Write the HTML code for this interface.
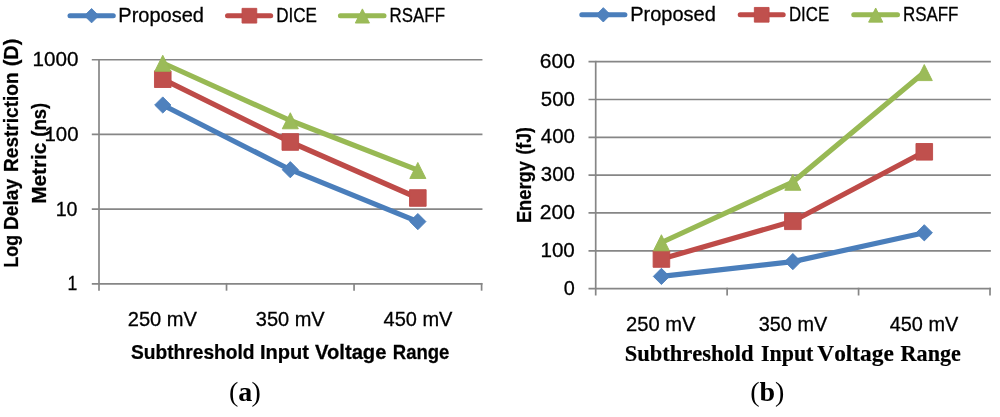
<!DOCTYPE html>
<html><head><meta charset="utf-8"><title>Chart</title>
<style>
html,body{margin:0;padding:0;background:#fff;}
body{width:1000px;height:417px;overflow:hidden;font-family:"Liberation Sans",sans-serif;}
svg{display:block;will-change:transform;}
text{fill:#000;}
text.r{stroke:#000;stroke-width:0.3px;}
text.b{stroke:#000;stroke-width:0.25px;}
text.s{font-kerning:none;stroke:#000;stroke-width:0.2px;}
</style></head><body>
<svg width="1000" height="417" viewBox="0 0 1000 417">
<rect width="1000" height="417" fill="#fff"/>
<!-- left chart -->
<line x1="91.80" y1="59.75" x2="482.45" y2="59.75" stroke="#868686" stroke-width="1.7"/>
<line x1="91.80" y1="134.43" x2="482.45" y2="134.43" stroke="#868686" stroke-width="1.7"/>
<line x1="91.80" y1="209.11" x2="482.45" y2="209.11" stroke="#868686" stroke-width="1.7"/>
<line x1="91.80" y1="283.79" x2="482.45" y2="283.79" stroke="#868686" stroke-width="1.7"/>
<line x1="99.00" y1="58.90" x2="99.00" y2="290.69" stroke="#868686" stroke-width="1.7"/>
<line x1="226.53" y1="282.94" x2="226.53" y2="290.69" stroke="#868686" stroke-width="1.7"/>
<line x1="354.07" y1="282.94" x2="354.07" y2="290.69" stroke="#868686" stroke-width="1.7"/>
<line x1="481.60" y1="282.94" x2="481.60" y2="290.69" stroke="#868686" stroke-width="1.7"/>
<polyline points="162.77,105.00 290.30,169.70 417.83,221.60" fill="none" stroke="#4A7EBB" stroke-width="5.2" stroke-linecap="round" stroke-linejoin="round"/>
<polyline points="162.77,79.20 290.30,142.00 417.83,198.00" fill="none" stroke="#BE4B48" stroke-width="5.2" stroke-linecap="round" stroke-linejoin="round"/>
<polyline points="162.77,63.00 290.30,120.50 417.83,170.20" fill="none" stroke="#98B954" stroke-width="5.2" stroke-linecap="round" stroke-linejoin="round"/>
<path d="M162.77,96.88 L170.89,105.00 L162.77,113.12 L154.65,105.00Z" fill="#4F81BD" stroke="#4A7EBB" stroke-width="0.9" stroke-linejoin="miter"/>
<path d="M290.30,161.58 L298.42,169.70 L290.30,177.82 L282.18,169.70Z" fill="#4F81BD" stroke="#4A7EBB" stroke-width="0.9" stroke-linejoin="miter"/>
<path d="M417.83,213.48 L425.95,221.60 L417.83,229.72 L409.71,221.60Z" fill="#4F81BD" stroke="#4A7EBB" stroke-width="0.9" stroke-linejoin="miter"/>
<rect x="154.47" y="70.90" width="16.60" height="16.60" fill="#C0504D" stroke="#BE4B48" stroke-width="0.9" stroke-linejoin="round"/>
<rect x="282.00" y="133.70" width="16.60" height="16.60" fill="#C0504D" stroke="#BE4B48" stroke-width="0.9" stroke-linejoin="round"/>
<rect x="409.53" y="189.70" width="16.60" height="16.60" fill="#C0504D" stroke="#BE4B48" stroke-width="0.9" stroke-linejoin="round"/>
<path d="M162.77,55.24 L170.80,71.30 L154.74,71.30Z" fill="#9BBB59" stroke="#98B954" stroke-width="0.9" stroke-linejoin="miter"/>
<path d="M290.30,112.74 L298.33,128.80 L282.27,128.80Z" fill="#9BBB59" stroke="#98B954" stroke-width="0.9" stroke-linejoin="miter"/>
<path d="M417.83,162.44 L425.86,178.50 L409.80,178.50Z" fill="#9BBB59" stroke="#98B954" stroke-width="0.9" stroke-linejoin="miter"/>
<line x1="70.00" y1="15.70" x2="113.30" y2="15.70" stroke="#4A7EBB" stroke-width="5.0" stroke-linecap="round"/>
<path d="M91.60,8.53 L98.77,15.70 L91.60,22.87 L84.43,15.70Z" fill="#4F81BD" stroke="#4A7EBB" stroke-width="0.9" stroke-linejoin="miter"/>
<line x1="227.50" y1="15.70" x2="270.70" y2="15.70" stroke="#BE4B48" stroke-width="5.0" stroke-linecap="round"/>
<rect x="242.05" y="8.35" width="14.70" height="14.70" fill="#C0504D" stroke="#BE4B48" stroke-width="0.9" stroke-linejoin="round"/>
<line x1="340.40" y1="15.70" x2="384.00" y2="15.70" stroke="#98B954" stroke-width="5.0" stroke-linecap="round"/>
<path d="M362.40,8.89 L369.48,23.05 L355.32,23.05Z" fill="#9BBB59" stroke="#98B954" stroke-width="0.9" stroke-linejoin="miter"/>
<!-- right chart -->
<line x1="588.50" y1="61.68" x2="990.85" y2="61.68" stroke="#868686" stroke-width="1.7"/>
<line x1="588.50" y1="99.50" x2="990.85" y2="99.50" stroke="#868686" stroke-width="1.7"/>
<line x1="588.50" y1="137.32" x2="990.85" y2="137.32" stroke="#868686" stroke-width="1.7"/>
<line x1="588.50" y1="175.14" x2="990.85" y2="175.14" stroke="#868686" stroke-width="1.7"/>
<line x1="588.50" y1="212.96" x2="990.85" y2="212.96" stroke="#868686" stroke-width="1.7"/>
<line x1="588.50" y1="250.78" x2="990.85" y2="250.78" stroke="#868686" stroke-width="1.7"/>
<line x1="588.50" y1="288.60" x2="990.85" y2="288.60" stroke="#868686" stroke-width="1.7"/>
<line x1="595.70" y1="60.83" x2="595.70" y2="295.50" stroke="#868686" stroke-width="1.7"/>
<line x1="727.13" y1="287.75" x2="727.13" y2="295.50" stroke="#868686" stroke-width="1.7"/>
<line x1="858.57" y1="287.75" x2="858.57" y2="295.50" stroke="#868686" stroke-width="1.7"/>
<line x1="990.00" y1="287.75" x2="990.00" y2="295.50" stroke="#868686" stroke-width="1.7"/>
<polyline points="661.42,276.40 792.85,261.60 924.28,232.80" fill="none" stroke="#4A7EBB" stroke-width="5.2" stroke-linecap="round" stroke-linejoin="round"/>
<polyline points="661.42,259.00 792.85,221.30 924.28,151.80" fill="none" stroke="#BE4B48" stroke-width="5.2" stroke-linecap="round" stroke-linejoin="round"/>
<polyline points="661.42,242.50 792.85,182.00 924.28,72.30" fill="none" stroke="#98B954" stroke-width="5.2" stroke-linecap="round" stroke-linejoin="round"/>
<path d="M661.42,268.28 L669.54,276.40 L661.42,284.52 L653.30,276.40Z" fill="#4F81BD" stroke="#4A7EBB" stroke-width="0.9" stroke-linejoin="miter"/>
<path d="M792.85,253.48 L800.97,261.60 L792.85,269.72 L784.73,261.60Z" fill="#4F81BD" stroke="#4A7EBB" stroke-width="0.9" stroke-linejoin="miter"/>
<path d="M924.28,224.68 L932.40,232.80 L924.28,240.92 L916.16,232.80Z" fill="#4F81BD" stroke="#4A7EBB" stroke-width="0.9" stroke-linejoin="miter"/>
<rect x="653.12" y="250.70" width="16.60" height="16.60" fill="#C0504D" stroke="#BE4B48" stroke-width="0.9" stroke-linejoin="round"/>
<rect x="784.55" y="213.00" width="16.60" height="16.60" fill="#C0504D" stroke="#BE4B48" stroke-width="0.9" stroke-linejoin="round"/>
<rect x="915.98" y="143.50" width="16.60" height="16.60" fill="#C0504D" stroke="#BE4B48" stroke-width="0.9" stroke-linejoin="round"/>
<path d="M661.42,234.74 L669.45,250.80 L653.39,250.80Z" fill="#9BBB59" stroke="#98B954" stroke-width="0.9" stroke-linejoin="miter"/>
<path d="M792.85,174.24 L800.88,190.30 L784.82,190.30Z" fill="#9BBB59" stroke="#98B954" stroke-width="0.9" stroke-linejoin="miter"/>
<path d="M924.28,64.54 L932.31,80.60 L916.25,80.60Z" fill="#9BBB59" stroke="#98B954" stroke-width="0.9" stroke-linejoin="miter"/>
<line x1="581.80" y1="14.80" x2="624.90" y2="14.80" stroke="#4A7EBB" stroke-width="5.0" stroke-linecap="round"/>
<path d="M603.30,7.63 L610.47,14.80 L603.30,21.97 L596.13,14.80Z" fill="#4F81BD" stroke="#4A7EBB" stroke-width="0.9" stroke-linejoin="miter"/>
<line x1="740.20" y1="14.80" x2="783.20" y2="14.80" stroke="#BE4B48" stroke-width="5.0" stroke-linecap="round"/>
<rect x="754.35" y="7.45" width="14.70" height="14.70" fill="#C0504D" stroke="#BE4B48" stroke-width="0.9" stroke-linejoin="round"/>
<line x1="853.75" y1="14.80" x2="897.50" y2="14.80" stroke="#98B954" stroke-width="5.0" stroke-linecap="round"/>
<path d="M875.70,7.99 L882.78,22.15 L868.62,22.15Z" fill="#9BBB59" stroke="#98B954" stroke-width="0.9" stroke-linejoin="miter"/>
<!-- text -->
<text transform="translate(118.35,21.80) scale(0.9522,1)" font-family="'Liberation Sans', sans-serif" font-size="21.0" font-weight="400" class="r">Proposed</text>
<text transform="translate(276.19,21.80) scale(0.8136,1)" font-family="'Liberation Sans', sans-serif" font-size="21.0" font-weight="400" class="r">DICE</text>
<text transform="translate(389.60,21.80) scale(0.8044,1)" font-family="'Liberation Sans', sans-serif" font-size="21.0" font-weight="400" class="r">RSAFF</text>
<text transform="translate(32.62,66.35) scale(0.9836,1)" font-family="'Liberation Sans', sans-serif" font-size="21.0" font-weight="400" class="r">1000</text>
<text transform="translate(44.53,141.03) scale(0.9713,1)" font-family="'Liberation Sans', sans-serif" font-size="21.0" font-weight="400" class="r">100</text>
<text transform="translate(55.66,215.71) scale(0.9364,1)" font-family="'Liberation Sans', sans-serif" font-size="21.0" font-weight="400" class="r">10</text>
<text transform="translate(67.56,290.19) scale(0.8400,1)" font-family="'Liberation Sans', sans-serif" font-size="21.0" font-weight="400" class="r">1</text>
<text transform="translate(127.79,325.80) scale(0.9563,1)" font-family="'Liberation Sans', sans-serif" font-size="21.0" font-weight="400" class="r">250 mV</text>
<text transform="translate(255.75,325.80) scale(0.9535,1)" font-family="'Liberation Sans', sans-serif" font-size="21.0" font-weight="400" class="r">350 mV</text>
<text transform="translate(383.50,325.80) scale(0.9535,1)" font-family="'Liberation Sans', sans-serif" font-size="21.0" font-weight="400" class="r">450 mV</text>
<text transform="translate(131.00,358.50) scale(0.9490,1)" font-family="'Liberation Sans', sans-serif" font-size="20.2" font-weight="700" class="b">Subthreshold</text>
<text transform="translate(260.01,358.50) scale(0.9938,1)" font-family="'Liberation Sans', sans-serif" font-size="20.2" font-weight="700" class="b">Input</text>
<text transform="translate(315.00,358.50) scale(1.0002,1)" font-family="'Liberation Sans', sans-serif" font-size="20.2" font-weight="700" class="b">Voltage</text>
<text transform="translate(392.78,358.50) scale(0.9178,1)" font-family="'Liberation Sans', sans-serif" font-size="20.2" font-weight="700" class="b">Range</text>
<text transform="translate(18.25,267.48) rotate(-90) scale(0.8799,1)" font-family="'Liberation Sans', sans-serif" font-size="20.2" font-weight="700" class="b">Log</text>
<text transform="translate(18.25,230.05) rotate(-90) scale(0.9507,1)" font-family="'Liberation Sans', sans-serif" font-size="20.2" font-weight="700" class="b">Delay</text>
<text transform="translate(18.25,171.94) rotate(-90) scale(0.9442,1)" font-family="'Liberation Sans', sans-serif" font-size="20.2" font-weight="700" class="b">Restriction</text>
<text transform="translate(18.25,66.29) rotate(-90) scale(0.9885,1)" font-family="'Liberation Sans', sans-serif" font-size="20.2" font-weight="700" class="b">(D)</text>
<text transform="translate(46.20,203.83) rotate(-90) scale(1.0269,1)" font-family="'Liberation Sans', sans-serif" font-size="20.2" font-weight="700" class="b">Metric</text>
<text transform="translate(46.20,136.72) rotate(-90) scale(0.9183,1)" font-family="'Liberation Sans', sans-serif" font-size="20.2" font-weight="700" class="b">(ns)</text>
<text transform="translate(630.25,21.30) scale(0.9522,1)" font-family="'Liberation Sans', sans-serif" font-size="21.0" font-weight="400" class="r">Proposed</text>
<text transform="translate(788.95,21.30) scale(0.8024,1)" font-family="'Liberation Sans', sans-serif" font-size="21.0" font-weight="400" class="r">DICE</text>
<text transform="translate(902.94,21.30) scale(0.8059,1)" font-family="'Liberation Sans', sans-serif" font-size="21.0" font-weight="400" class="r">RSAFF</text>
<text transform="translate(563.80,294.60) scale(0.9455,1)" font-family="'Liberation Sans', sans-serif" font-size="21.0" font-weight="400" class="r">0</text>
<text transform="translate(540.42,256.78) scale(0.9833,1)" font-family="'Liberation Sans', sans-serif" font-size="21.0" font-weight="400" class="r">100</text>
<text transform="translate(539.80,218.96) scale(1.0012,1)" font-family="'Liberation Sans', sans-serif" font-size="21.0" font-weight="400" class="r">200</text>
<text transform="translate(540.80,181.14) scale(0.9721,1)" font-family="'Liberation Sans', sans-serif" font-size="21.0" font-weight="400" class="r">300</text>
<text transform="translate(540.80,143.32) scale(0.9721,1)" font-family="'Liberation Sans', sans-serif" font-size="21.0" font-weight="400" class="r">400</text>
<text transform="translate(540.80,105.50) scale(0.9721,1)" font-family="'Liberation Sans', sans-serif" font-size="21.0" font-weight="400" class="r">500</text>
<text transform="translate(539.80,67.68) scale(1.0012,1)" font-family="'Liberation Sans', sans-serif" font-size="21.0" font-weight="400" class="r">600</text>
<text transform="translate(626.04,330.50) scale(0.9599,1)" font-family="'Liberation Sans', sans-serif" font-size="21.0" font-weight="400" class="r">250 mV</text>
<text transform="translate(758.80,330.50) scale(0.9452,1)" font-family="'Liberation Sans', sans-serif" font-size="21.0" font-weight="400" class="r">350 mV</text>
<text transform="translate(889.75,330.50) scale(0.9473,1)" font-family="'Liberation Sans', sans-serif" font-size="21.0" font-weight="400" class="r">450 mV</text>
<text transform="translate(624.65,360.75) scale(0.9467,1)" font-family="'Liberation Serif', serif" font-size="23.8" font-weight="700" class="s">Subthreshold</text>
<text transform="translate(761.00,360.75) scale(0.9216,1)" font-family="'Liberation Serif', serif" font-size="23.8" font-weight="700" class="s">Input</text>
<text transform="translate(817.30,360.75) scale(0.9817,1)" font-family="'Liberation Serif', serif" font-size="23.8" font-weight="700" class="s">Voltage</text>
<text transform="translate(900.60,360.75) scale(0.9297,1)" font-family="'Liberation Serif', serif" font-size="23.8" font-weight="700" class="s">Range</text>
<text transform="translate(531.30,223.11) rotate(-90) scale(0.9075,1)" font-family="'Liberation Sans', sans-serif" font-size="20.2" font-weight="700" class="b">Energy</text>
<text transform="translate(531.30,154.57) rotate(-90) scale(0.8729,1)" font-family="'Liberation Sans', sans-serif" font-size="20.2" font-weight="700" class="b">(fJ)</text>
<text x="229.0" y="400.7" font-family="'Liberation Serif', serif" font-size="28" xml:space="preserve"><tspan>(</tspan><tspan font-weight="700">a</tspan><tspan dx="-0.8">)</tspan></text>
<text x="750.2" y="400.7" font-family="'Liberation Serif', serif" font-size="28"><tspan>(</tspan><tspan font-weight="700">b</tspan><tspan>)</tspan></text>
</svg>
</body></html>
